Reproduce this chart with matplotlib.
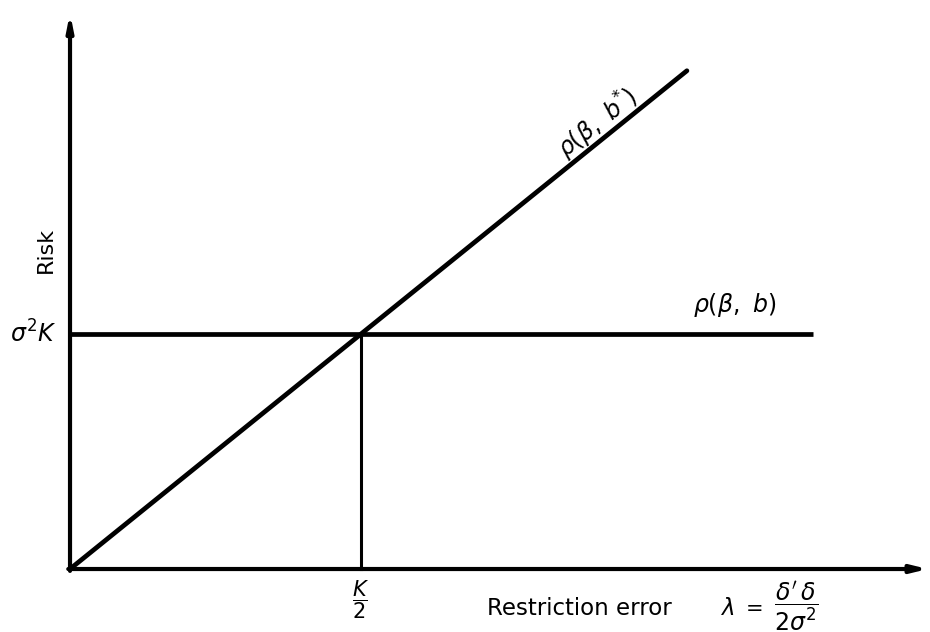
import matplotlib
matplotlib.use("Agg")
import matplotlib.pyplot as plt

plt.rcParams["font.family"] = ["DejaVu Sans"]
plt.rcParams["mathtext.fontset"] = "dejavusans"

# Restriction error (in units of K) and risk (in units of sigma^2 K)
lam_restricted = [0.0, 0.5, 1.06]
risk_restricted = [0.0, 1.0, 2.12]
lam_ls = [0.0, 1.277]
risk_ls = [1.0, 1.0]
crossing_lam = 0.5
crossing_risk = 1.0
x_axis_end = 1.474
y_axis_end = 2.366

fig = plt.figure(figsize=(9.3, 6.32), dpi=100)
ax = fig.add_axes([0, 0, 1, 1])
ax.set_xlim(-0.1203, 1.4777)
ax.set_ylim(-0.268, 2.421)
ax.axis("off")


def px_x(p):
    return (p - 70) / 582


def px_y(p):
    return (569 - p) / 235


lw = 3.0
# axes with arrows
ax.annotate("", xy=(x_axis_end, 0), xytext=(-0.003, 0),
            arrowprops=dict(arrowstyle="-|>,head_length=0.9,head_width=0.22",
                            lw=lw, color="black", shrinkA=0, shrinkB=0))
ax.annotate("", xy=(0, y_axis_end), xytext=(0, -0.008),
            arrowprops=dict(arrowstyle="-|>,head_length=0.9,head_width=0.18",
                            lw=lw, color="black", shrinkA=0, shrinkB=0))

# risk curves
ax.plot(lam_restricted, risk_restricted, color="black", lw=3.4,
        solid_capstyle="round")
ax.plot(lam_ls, risk_ls, color="black", lw=3.4, solid_capstyle="butt")
ax.plot([crossing_lam, crossing_lam], [0, crossing_risk], color="black", lw=2.2)

# labels
ax.text(px_x(46), px_y(250), "Risk", rotation=90, fontsize=16,
        ha="center", va="center")
ax.text(px_x(33), crossing_risk, r"$\sigma^2 K$", fontsize=17,
        ha="center", va="center")
ax.text(px_x(735), px_y(305), r"$\rho(\beta,\ b)$", fontsize=17,
        ha="center", va="center")
ax.text(px_x(598), px_y(123), r"$\rho(\beta,\ b^{*})$", fontsize=17,
        rotation=38.5, rotation_mode="anchor", ha="center", va="center")
ax.text(crossing_lam, px_y(600), r"$\dfrac{K}{2}$", fontsize=15,
        ha="center", va="center")
ax.text(px_x(487), px_y(615), "Restriction error", fontsize=16.5,
        ha="left", va="baseline")
ax.text(px_x(727), px_y(615), r"$\lambda$", fontsize=16.5,
        ha="center", va="baseline")
ax.text(px_x(755), px_y(615), "=", fontsize=15,
        ha="center", va="baseline")
ax.text(px_x(796), px_y(606), r"$\dfrac{\delta'\,\delta}{2\sigma^2}$",
        fontsize=17, ha="center", va="center")

fig.savefig("out.png", dpi=100)
